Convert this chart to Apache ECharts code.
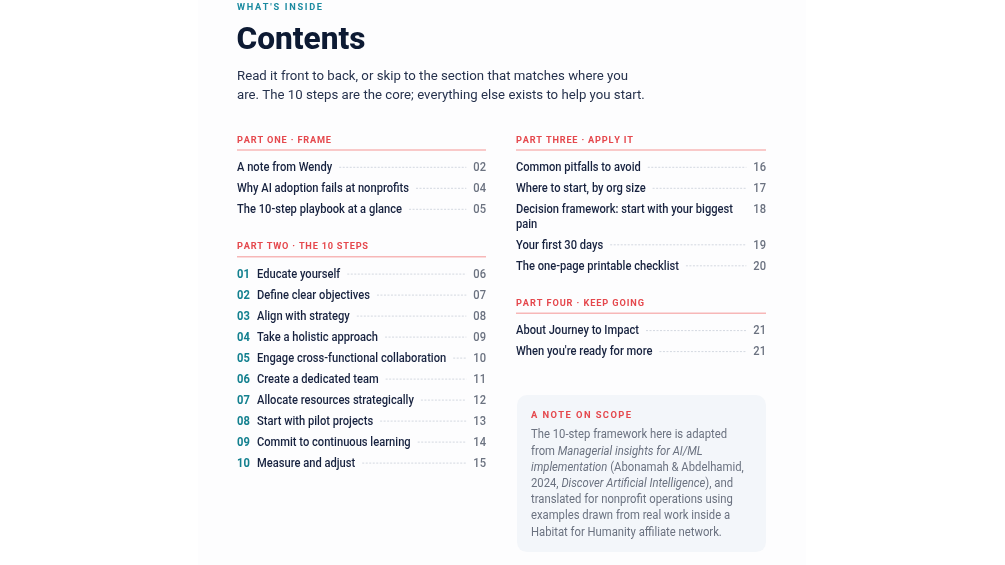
<!DOCTYPE html>
<html><head><meta charset="utf-8">
<script src="https://cdn.jsdelivr.net/npm/echarts@6/dist/echarts.min.js"></script>
<style>html,body{margin:0;padding:0;background:#fff}#c{width:1005px;height:565px}</style>
</head><body><div id="c"></div>
<script>
const eyebrow = "WHAT'S INSIDE";
const title = "Contents";
const introLines = [
  "Read it front to back, or skip to the section that matches where you",
  "are. The 10 steps are the core; everything else exists to help you start."
];
const partOneHeader = "PART ONE · FRAME";
const partOneTitles = ["A note from Wendy", "Why AI adoption fails at nonprofits", "The 10-step playbook at a glance"];
const partOnePages = ["02", "04", "05"];
const partTwoHeader = "PART TWO · THE 10 STEPS";
const stepNumbers = ["01", "02", "03", "04", "05", "06", "07", "08", "09", "10"];
const stepTitles = ["Educate yourself", "Define clear objectives", "Align with strategy", "Take a holistic approach",
  "Engage cross-functional collaboration", "Create a dedicated team", "Allocate resources strategically",
  "Start with pilot projects", "Commit to continuous learning", "Measure and adjust"];
const stepPages = ["06", "07", "08", "09", "10", "11", "12", "13", "14", "15"];
const partThreeHeader = "PART THREE · APPLY IT";
const partThreeTitles = ["Common pitfalls to avoid", "Where to start, by org size",
  "Decision framework: start with your biggest pain", "Your first 30 days", "The one-page printable checklist"];
const partThreePages = ["16", "17", "18", "19", "20"];
const partFourHeader = "PART FOUR · KEEP GOING";
const partFourTitles = ["About Journey to Impact", "When you're ready for more"];
const partFourPages = ["21", "21"];
const noteHeader = "A NOTE ON SCOPE";
const noteLines = [
  "The 10-step framework here is adapted",
  "from {i|Managerial insights for AI/ML}",
  "{i|implementation} (Abonamah & Abdelhamid,",
  "2024, {i|Discover Artificial Intelligence}), and",
  "translated for nonprofit operations using",
  "examples drawn from real work inside a",
  "Habitat for Humanity affiliate network."
];

const FF = 'Roboto, "Noto Sans", sans-serif';
const C = {
  navy: '#17223f', title: '#0d1a33', teal: '#1a8aa0', stepNum: '#13808f', red: '#e5484d',
  rule: '#f7b7b7', page: '#6b7280', leader: '#d3d8e0', intro: '#26324d', noteBg: '#f3f6fa', noteText: '#6b7280'
};
const ctx = document.createElement('canvas').getContext('2d');
function fontStr(w, s, st) { return (st ? st + ' ' : '') + w + ' ' + s + 'px ' + FF; }
function measure(t, f) { ctx.font = f; return ctx.measureText(t).width; }

const els = [];
function txt(t, x, y, f, fill, align, sx) {
  els.push({ type: 'text', x: x, y: y, scaleX: sx || 1, silent: true, style: {
    text: t, font: f, fill: fill, textAlign: align || 'left', align: align || 'left',
    textVerticalAlign: 'middle', verticalAlign: 'middle' } });
}
function spacedW(t, f, target) {
  let s = 0; const arr = [...t];
  arr.forEach(ch => s += measure(ch, f));
  return (target - s) / (arr.length - 1);
}
function spaced(t, x, y, f, fill, target) {
  const sp = spacedW(t, f, target);
  let cx = x;
  for (const ch of t) { txt(ch, cx, y, f, fill); cx += measure(ch, f) + sp; }
}

// faint page
els.push({ type: 'rect', shape: { x: 198, y: 0, width: 608, height: 565 }, style: { fill: '#fdfdfe' }, silent: true });

const DY = 1.2;
const hdrFont = fontStr(700, 9.2);
spaced(eyebrow, 237, 6 + DY, hdrFont, C.teal, 85);
const titleFont = fontStr(800, 32);
txt(title, 236.5, 40 + DY, titleFont, C.title, 'left', 129 / measure(title, titleFont));
const introFont = fontStr(400, 13.6);
const introSx = 391 / measure(introLines[0], introFont);
introLines.forEach((l, i) => txt(l, 237, 75 + DY + i * 19.3, introFont, C.intro, 'left', introSx));

const itemFont = fontStr(500, 12.1);
const itemSx = 172 / measure(partOneTitles[1], itemFont);
const pageFont = fontStr(500, 12.1);
const numFont = fontStr(700, 12.1);

function section(x0, x1, y, header, titles, pages, nums, hdrTarget) {
  spaced(header, x0, y + DY, hdrFont, C.red, hdrTarget);
  els.push({ type: 'line', silent: true, shape: { x1: x0, y1: y + 11, x2: x1, y2: y + 11 }, style: { stroke: C.rule, lineWidth: 1.4 } });
  let ry = y + 27.8;
  titles.forEach((t, i) => {
    let tx = x0;
    if (nums) { txt(nums[i], x0, ry + DY, numFont, C.stepNum, 'left', itemSx); tx = x0 + 20; }
    const maxW = x1 - tx - 26;
    const words = t.split(' '); const lines = []; let cur = '';
    words.forEach(w => {
      const test = cur ? cur + ' ' + w : w;
      if (measure(test, itemFont) * itemSx > maxW && cur) { lines.push(cur); cur = w; } else cur = test;
    });
    lines.push(cur);
    lines.forEach((l, k) => txt(l, tx, ry + DY + k * 15, itemFont, C.navy, 'left', itemSx));
    txt(pages[i], x1, ry + DY, pageFont, C.page, 'right', itemSx);
    if (lines.length === 1) {
      const ex = tx + measure(lines[0], itemFont) * itemSx + 7;
      const px = x1 - measure(pages[i], pageFont) * itemSx - 7;
      els.push({ type: 'line', silent: true, shape: { x1: ex, y1: ry + 0.5, x2: px, y2: ry + 0.5 },
        style: { stroke: C.leader, lineWidth: 1, lineDash: [2, 1.5] } });
    }
    ry += 21 + (lines.length - 1) * 14.5;
  });
  return ry - 21;
}

let lastL = section(237, 486, 139, partOneHeader, partOneTitles, partOnePages, null, 94);
section(237, 486, lastL + 37, partTwoHeader, stepTitles, stepPages, stepNumbers, 131);
let lastR = section(516, 766, 139, partThreeHeader, partThreeTitles, partThreePages, null, 117);
lastR = section(516, 766, lastR + 37, partFourHeader, partFourTitles, partFourPages, null, 128);

const boxY = lastR + 44;
els.push({ type: 'rect', silent: true, shape: { x: 517, y: boxY, width: 249, height: 157, r: 10 }, style: { fill: C.noteBg } });
spaced(noteHeader, 531, boxY + 19 + DY, fontStr(700, 9.4), C.red, 100);
const noteSize = 12;
const noteSx = 196 / measure(noteLines[0], fontStr(400, noteSize));
noteLines.forEach((l, i) => {
  els.push({ type: 'text', x: 531, y: boxY + 39 + DY + i * 16.2, scaleX: noteSx, silent: true, style: {
    text: l, fontFamily: FF, fontSize: noteSize, fontWeight: 400, fill: C.noteText,
    textVerticalAlign: 'middle', verticalAlign: 'middle',
    rich: { i: { fontFamily: FF, fontSize: noteSize, fontStyle: 'italic', fill: C.noteText } } } });
});

const chart = echarts.init(document.getElementById('c'), null, { renderer: 'canvas' });
chart.setOption({ backgroundColor: '#ffffff', animation: false, graphic: { elements: els } });
</script></body></html>
